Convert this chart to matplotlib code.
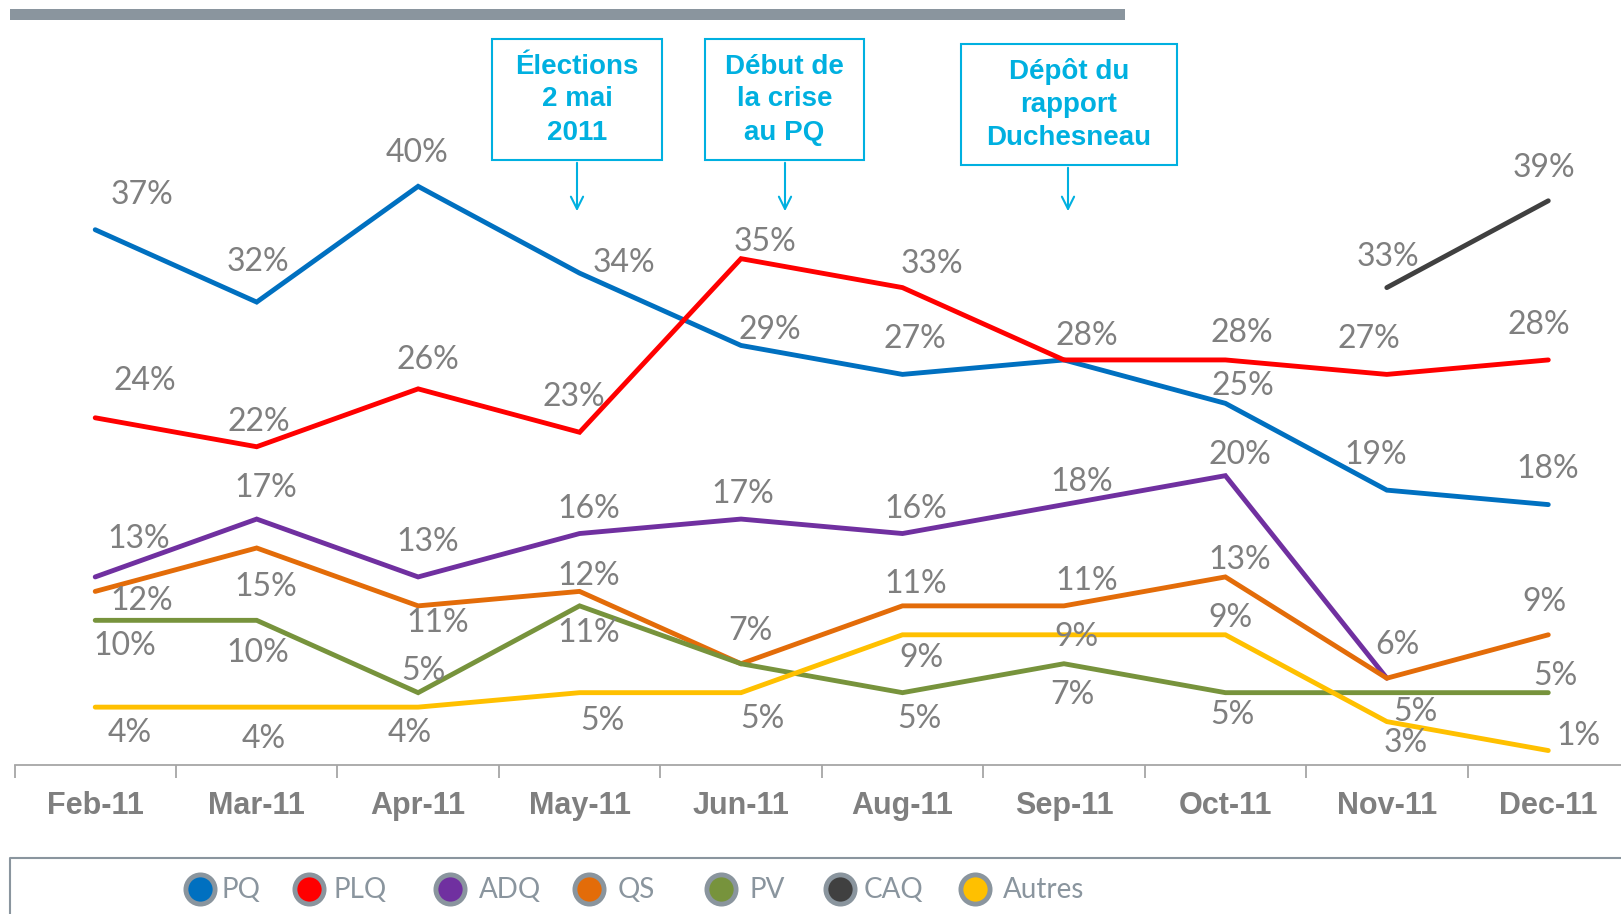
import matplotlib
matplotlib.use("Agg")
import matplotlib.pyplot as plt
from matplotlib.patches import Rectangle

# data
months = ['Feb-11', 'Mar-11', 'Apr-11', 'May-11', 'Jun-11', 'Aug-11', 'Sep-11', 'Oct-11', 'Nov-11', 'Dec-11']
pq = [37, 32, 40, 34, 29, 27, 28, 25, 19, 18]
plq = [24, 22, 26, 23, 35, 33, 28, 28, 27, 28]
adq = [13, 17, 13, 16, 17, 16, 18, 20, 6, None]
qs = [12, 15, 11, 12, 7, 11, 11, 13, 6, 9]
pv = [10, 10, 5, 11, 7, 5, 7, 5, 5, 5]
caq = [None, None, None, None, None, None, None, None, 33, 39]
autres = [4, 4, 4, 5, 5, 9, 9, 9, 3, 1]

names = ['PQ', 'PLQ', 'ADQ', 'QS', 'PV', 'CAQ', 'Autres']
colors = ['#0070c0', '#ff0000', '#7030a0', '#e36c09', '#77933c', '#404040', '#ffc000']
series = [pq, plq, adq, qs, pv, caq, autres]

# label offsets in pixels (dx, dy screen-down), None = no label
offsets = {
    'PQ': [(45, -34), (1, -39), (-1, -32), (43, -10), (28, -15), (12, -34), None, (17, -17), (-11, -34), (-1, -34)],
    'PLQ': [(48, -36), (2, -24), (9, -28), (-6, -34), (23, -16), (28, -23), (22, -23), (16, -26), (-17, -34), (-9, -34)],
    'ADQ': [(42, -37), (9, -30), (9, -34), (9, -24), (2, -24), (13, -24), (17, -22), (14, -20), None, None],
    'QS': [(45, 9), (9, 38), (19, 17), (9, -15), (9, -32), (13, -21), (22, -24), (14, -16), (10, -32), (-4, -32)],
    'PV': [(29, 25), (1, 32), (5, -21), (9, 26), None, (16, 25), (8, 30), (7, 22), (28, 19), (7, -16)],
    'CAQ': [None] * 8 + [(1, -30), (-4, -32)],
    'Autres': [(33, 25), (7, 31), (-8, 25), (22, 27), (21, 25), (18, 22), (12, 2), (5, -16), (18, 21), (29, -14)],
}

events = ['Élections\n2 mai\n2011', 'Début de\nla crise\nau PQ', 'Dépôt du\nrapport\nDuchesneau']

W, H = 1621, 914
fig = plt.figure(figsize=(W / 100, H / 100), dpi=100)
fig.patch.set_facecolor('white')

# main axes: x from 14.5 px to ~1629 px, y 0 at 765 px, 45% at 114 px
ax = fig.add_axes([14.5 / W, 1 - 765 / H, (1629 - 14.5) / W, (765 - 114) / H])
ax.set_facecolor('none')
ax.set_xlim(-0.5, 9.5)
ax.set_ylim(0, 45)

x = list(range(len(months)))
label_font = ['Lato', 'DejaVu Sans']
narrow = ['Liberation Sans Narrow', 'Liberation Sans', 'DejaVu Sans']
for name, col, vals in zip(names, colors, series):
    xs = [i for i, v in zip(x, vals) if v is not None]
    ys = [v for v in vals if v is not None]
    ax.plot(xs, ys, color=col, lw=3.5, solid_capstyle='round', solid_joinstyle='miter')
    for i, v in zip(x, vals):
        off = offsets[name][i]
        if v is None or off is None:
            continue
        ax.annotate(f'{v}%', (i, v), xytext=(off[0] * 1.034, -off[1] * 1.034),
                    textcoords='offset pixels', ha='center', va='center',
                    fontsize=23, color='#7f7f7f', family=label_font)

for s in ['top', 'right', 'left']:
    ax.spines[s].set_visible(False)
ax.spines['bottom'].set_color('#a6a6a6')
ax.spines['bottom'].set_linewidth(1.3)
ax.set_yticks([])
ax.set_xticks(x)
ax.set_xticklabels(months, fontsize=22, fontweight='bold', color='#7f7f7f', family=narrow)
ax.tick_params(axis='x', which='major', length=0, pad=19)
ax.set_xticks([i - 0.5 for i in range(len(months) + 1)], minor=True)
ax.tick_params(axis='x', which='minor', length=9, width=1.3, color='#a6a6a6', direction='out')

# overlay in pixel coordinates for decorations
ov = fig.add_axes([0, 0, 1, 1])
ov.set_xlim(0, W)
ov.set_ylim(H, 0)
ov.axis('off')
ov.patch.set_alpha(0)

# top bar
ov.add_patch(Rectangle((10, 9), 1115, 11, color='#8a959e', lw=0))

# event boxes
box_col = '#00b0e0'
boxes = [(492, 39, 170, 121), (705, 39, 159, 121), (961, 44, 216, 121)]
arrow_x = [577, 785, 1068]
for (bx, by, bw, bh), txt, axx in zip(boxes, events, arrow_x):
    ov.add_patch(Rectangle((bx, by), bw, bh, fill=False, ec=box_col, lw=1.5))
    ov.text(bx + bw / 2, by + bh / 2, txt, ha='center', va='center', fontsize=20,
            fontweight='bold', color=box_col, linespacing=1.35, family=narrow)
    ov.annotate('', xy=(axx, 214), xytext=(axx, by + bh),
                arrowprops=dict(arrowstyle='->', color=box_col, lw=1.5, mutation_scale=22))

# legend frame
ov.plot([10, 10, W], [H, 858, 858], color='#8a959e', lw=1.5)
mx = [200, 309, 450, 589, 721, 840, 975]
tx = [222, 333, 479, 618, 750, 864, 1003]
for name, col, m, t in zip(names, colors, mx, tx):
    ov.plot([m], [889], marker='o', ms=21, mfc=col, mec='#8a959e', mew=3.5)
    ov.text(t, 890, name, ha='left', va='center', fontsize=20, color='#8a959e',
            family=label_font)

fig.savefig('out.png', dpi=100)
